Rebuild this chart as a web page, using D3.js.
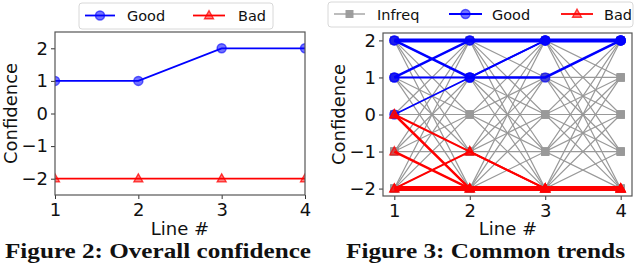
<!DOCTYPE html>
<html><head><meta charset="utf-8">
<script src="https://cdn.jsdelivr.net/npm/d3@7"></script>
<style>
html,body{margin:0;padding:0;background:#fff;}
svg{display:block;}
text{font-family:"DejaVu Sans",sans-serif;fill:#111;}
.cap{font-family:"Liberation Serif","DejaVu Serif",serif;font-weight:bold;}
</style></head><body>
<script>
// ---------- data ----------
const xTicks = [1, 2, 3, 4];
const yTicks = [-2, -1, 0, 1, 2];

// Figure 2: overall confidence
const overallGood = [1, 1, 2, 2];
const overallBad = [-2, -2, -2, -2];

// Figure 3: common trends (confidence at lines 1..4)
const infreqTrends = [
  [-2,-2,-2,-2],[-2,-1,-1,0],[-2,0,0,2],[-2,1,1,-1],[-2,2,2,1],
  [-1,-2,-1,-1],[-1,-1,0,1],[-1,0,1,-2],[-1,1,2,0],[-1,2,-2,2],
  [0,-2,0,0],[0,-1,1,2],[0,0,2,-1],[0,1,-2,1],[0,2,-1,-2],
  [1,-2,1,1],[1,-1,2,-2],[1,0,-2,0],[1,1,-1,2],[1,2,0,-1],
  [2,-2,2,2],[2,-1,-2,-1],[2,0,-1,1],[2,1,0,-2],[2,2,1,0]
];
const goodTrends = [[2,2,2,2],[2,1,1,2],[1,2,2,2],[1,1,2,2],[0,1,2,2]];
const goodWeights = [8, 5, 5, 4, 3];
const badTrends = [[-2,-2,-2,-2],[0,-2,-2,-2],[0,-1,-2,-2],[-1,-2,-2,-2],[-2,-1,-2,-2]];
const badWeights = [10, 5, 4, 5, 4];

const legend2 = ["Good", "Bad"];
const legend3 = ["Infreq", "Good", "Bad"];
const captions = ["Figure 2: Overall confidence", "Figure 3: Common trends"];
const axisTitles = {x: "Line #", y: "Confidence"};

// ---------- drawing ----------
const W = 640, H = 267;
const svg = d3.select("body").append("svg").attr("width", W).attr("height", H);
const BLUE = "#0000ff", RED = "#ff0000", GRAY = "#999999";

const defs = svg.append("defs");

function circleMark(g, x, y, r) {
  g.append("circle").attr("cx", x).attr("cy", y).attr("r", r)
    .attr("fill", BLUE).attr("fill-opacity", 0.55)
    .attr("stroke", BLUE).attr("stroke-opacity", 0.6).attr("stroke-width", 1.5);
}
function triMark(g, x, y, s) {
  const h = s * 0.9;
  g.append("path").attr("d", `M${x},${y - h * 0.6}L${x + s / 2},${y + h * 0.4}L${x - s / 2},${y + h * 0.4}Z`)
    .attr("fill", RED).attr("fill-opacity", 0.5)
    .attr("stroke", RED).attr("stroke-opacity", 0.75).attr("stroke-width", 1.3);
}
function squareMark(g, x, y, s) {
  g.append("rect").attr("x", x - s / 2).attr("y", y - s / 2).attr("width", s).attr("height", s)
    .attr("fill", GRAY).attr("fill-opacity", 0.95);
}

function frame(id, x, y, xLabelX, yLabelX) {
  const [x0, x1] = x.range(), [y0, y1] = y.range();
  defs.append("clipPath").attr("id", id).append("rect")
    .attr("x", x0).attr("y", y1).attr("width", x1 - x0).attr("height", y0 - y1);
  const g = svg.append("g");
  const plot = g.append("g").attr("clip-path", `url(#${id})`);
  const ax = g.append("g").attr("transform", `translate(0,${y0})`)
    .call(d3.axisBottom(x).tickValues(xTicks).tickFormat(d3.format("d")).tickSize(4).tickPadding(3).tickSizeOuter(0));
  const ay = g.append("g").attr("transform", `translate(${x0},0)`)
    .call(d3.axisLeft(y).tickValues(yTicks).tickFormat(d3.format("d")).tickSize(4).tickPadding(3).tickSizeOuter(0));
  [ax, ay].forEach(a => {
    a.select(".domain").remove();
    a.selectAll("line").attr("stroke", "#333");
    a.selectAll("text").attr("font-size", 18).attr("font-family", "DejaVu Sans").attr("fill", "#111");
  });
  ax.selectAll("text").attr("dy", "0.78em");
  g.append("rect").attr("x", x0).attr("y", y1).attr("width", x1 - x0).attr("height", y0 - y1)
    .attr("fill", "none").attr("stroke", "#555").attr("stroke-width", 1.2);
  g.append("text").attr("x", xLabelX).attr("y", 235).attr("text-anchor", "middle")
    .attr("font-size", 18).text(axisTitles.x);
  g.append("text").attr("transform", `translate(${yLabelX},${(y0 + y1) / 2}) rotate(-90)`)
    .attr("text-anchor", "middle").attr("dy", "0.35em").attr("font-size", 18).text(axisTitles.y);
  return {g, plot};
}

// ---- Figure 2 ----
{
  const x = d3.scaleLinear().domain([1, 4]).range([55, 305]);
  const y = d3.scaleLinear().domain([-2.5, 2.5]).range([195, 32]);
  const {plot} = frame("c2", x, y, 180, 11);
  const line = d3.line().x((d, i) => x(xTicks[i])).y(d => y(d));
  plot.append("path").datum(overallBad).attr("d", line).attr("fill", "none").attr("stroke", RED).attr("stroke-width", 1.8);
  overallBad.forEach((d, i) => triMark(plot, x(xTicks[i]), y(d), 9));
  plot.append("path").datum(overallGood).attr("d", line).attr("fill", "none").attr("stroke", BLUE).attr("stroke-width", 1.8);
  overallGood.forEach((d, i) => circleMark(plot, x(xTicks[i]), y(d), 4.5));
  const lg = svg.append("g");
  lg.append("rect").attr("x", 79).attr("y", 3).attr("width", 194).attr("height", 26).attr("rx", 3)
    .attr("fill", "#fff").attr("stroke", "#d8d8d8");
  lg.append("line").attr("x1", 85).attr("x2", 115).attr("y1", 15.5).attr("y2", 15.5).attr("stroke", BLUE).attr("stroke-width", 1.8);
  circleMark(lg, 100, 15.5, 4.5);
  lg.append("text").attr("x", 127).attr("y", 21).attr("font-size", 14.5).text(legend2[0]);
  lg.append("line").attr("x1", 193).attr("x2", 225).attr("y1", 15.5).attr("y2", 15.5).attr("stroke", RED).attr("stroke-width", 1.8);
  triMark(lg, 209, 15.5, 9);
  lg.append("text").attr("x", 238).attr("y", 21).attr("font-size", 14.5).text(legend2[1]);
  svg.append("text").attr("class", "cap").attr("x", 5).attr("y", 258).attr("font-size", 21)
    .attr("textLength", 306).attr("lengthAdjust", "spacingAndGlyphs").text(captions[0]);
}

// ---- Figure 3 ----
{
  const x = d3.scaleLinear().domain([0.85, 4.15]).range([383, 632]);
  const y = d3.scaleLinear().domain([-2.2, 2.2]).range([196, 33]);
  const {plot} = frame("c3", x, y, 508, 339);
  const line = d3.line().x((d, i) => x(xTicks[i])).y(d => y(d));
  infreqTrends.forEach(t => {
    plot.append("path").datum(t).attr("d", line).attr("fill", "none").attr("stroke", GRAY).attr("stroke-width", 1.2);
  });
  infreqTrends.forEach(t => t.forEach((d, i) => squareMark(plot, x(xTicks[i]), y(d), 8)));
  goodTrends.forEach((t, k) => {
    plot.append("path").datum(t).attr("d", line).attr("fill", "none").attr("stroke", BLUE)
      .attr("stroke-width", goodWeights[k] * 0.5);
  });
  goodTrends.forEach(t => t.forEach((d, i) => circleMark(plot, x(xTicks[i]), y(d), 4.5)));
  badTrends.forEach((t, k) => {
    plot.append("path").datum(t).attr("d", line).attr("fill", "none").attr("stroke", RED)
      .attr("stroke-width", badWeights[k] * 0.5);
  });
  badTrends.forEach(t => t.forEach((d, i) => triMark(plot, x(xTicks[i]), y(d), 9)));
  const lg = svg.append("g");
  lg.append("rect").attr("x", 328).attr("y", 2).attr("width", 305).attr("height", 25).attr("rx", 3)
    .attr("fill", "#fff").attr("stroke", "#d8d8d8");
  lg.append("line").attr("x1", 334).attr("x2", 365).attr("y1", 14).attr("y2", 14).attr("stroke", GRAY).attr("stroke-width", 1.3);
  squareMark(lg, 349.5, 14, 8);
  lg.append("text").attr("x", 377).attr("y", 19.5).attr("font-size", 14.5).text(legend3[0]);
  lg.append("line").attr("x1", 449).attr("x2", 482).attr("y1", 14).attr("y2", 14).attr("stroke", BLUE).attr("stroke-width", 2);
  circleMark(lg, 465.5, 14, 4.5);
  lg.append("text").attr("x", 492).attr("y", 19.5).attr("font-size", 14.5).text(legend3[1]);
  lg.append("line").attr("x1", 561).attr("x2", 593).attr("y1", 14).attr("y2", 14).attr("stroke", RED).attr("stroke-width", 1.8);
  triMark(lg, 577, 14, 9);
  lg.append("text").attr("x", 604).attr("y", 19.5).attr("font-size", 14.5).text(legend3[2]);
  svg.append("text").attr("class", "cap").attr("x", 346).attr("y", 258).attr("font-size", 21)
    .attr("textLength", 279).attr("lengthAdjust", "spacingAndGlyphs").text(captions[1]);
}
</script>
</body></html>
